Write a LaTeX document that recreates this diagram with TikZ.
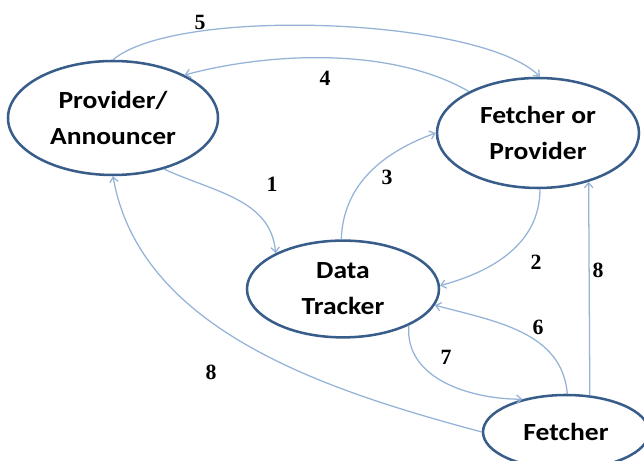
\documentclass[tikz,border=0pt]{standalone}
\usepackage{fontspec}
\usepackage{tikz}
\usetikzlibrary{positioning, shapes.geometric, arrows.meta}
\newfontfamily\boxfont[FakeStretch=1.12]{Carlito}
\newfontfamily\numfont{Liberation Serif}
\definecolor{rimblue}{RGB}{56,93,138}
\definecolor{flowblue}{RGB}{149,179,215}

\begin{document}
\begin{tikzpicture}[
  party/.style={ellipse, draw=rimblue, line width=1.8pt, inner sep=0pt, align=center,
    font=\boxfont\bfseries\fontsize{17.5}{25.5}\selectfont},
  flow/.style={draw=flowblue, line width=0.9pt, -{Straight Barb[length=3.5pt, width=6pt]}},
  num/.style={font=\numfont\bfseries\fontsize{15.5}{17}\selectfont}
]
  \useasboundingbox (0,0) rectangle (16.1, 11.525);

  % Parties
  \node[party, minimum width=5.25cm, minimum height=2.85cm] (prov) at (2.825, 8.575) {Provider/\\Announcer};
  \node[party, minimum width=5.05cm, minimum height=2.75cm] (fop) at (13.45, 8.2) {Fetcher or\\Provider};
  \node[party, minimum width=4.8cm, minimum height=2.42cm] (track) at (8.575, 4.3) {Data\\Tracker};
  \node[party, minimum width=4.15cm, minimum height=1.85cm] (fetch) at (14.15, 0.725) {Fetcher};

  % Messages
  \draw[flow] (prov.-45) to[out=-25, in=95] (track.152);
  \draw[flow] (fop.-88) to[out=-90, in=15] (track.2);
  \draw[flow] (track.92) to[out=88, in=200] (fop.180);
  \draw[flow] (fop.149) to[out=150, in=15, looseness=0.8] (prov.31);
  \draw[flow] (prov.90) to[out=40, in=135, looseness=0.5] (fop.88);
  \draw[flow] (fetch.88) to[out=95, in=-15] (track.-10);
  \draw[flow] (track.-29) to[out=-95, in=180] (fetch.143);
  \draw[flow] (fetch.57) -- (fop.-44);
  \draw[flow] (fetch.180) to[out=165, in=-80, looseness=0.9] (prov.-90);

  % Step numbers
  \node[num] (n5) at (5.0, 10.975) {5};
  \node[num] (n4) at (8.125, 9.575) {4};
  \node[num] (n1) at (6.8, 6.925) {1};
  \node[num] (n3) at (9.675, 7.1) {3};
  \node[num] (n2) at (13.4, 4.975) {2};
  \node[num] (n8a) at (14.95, 4.775) {8};
  \node[num] (n6) at (13.45, 3.35) {6};
  \node[num] (n7) at (11.15, 2.6) {7};
  \node[num] (n8b) at (5.275, 2.225) {8};
\end{tikzpicture}
\end{document}
